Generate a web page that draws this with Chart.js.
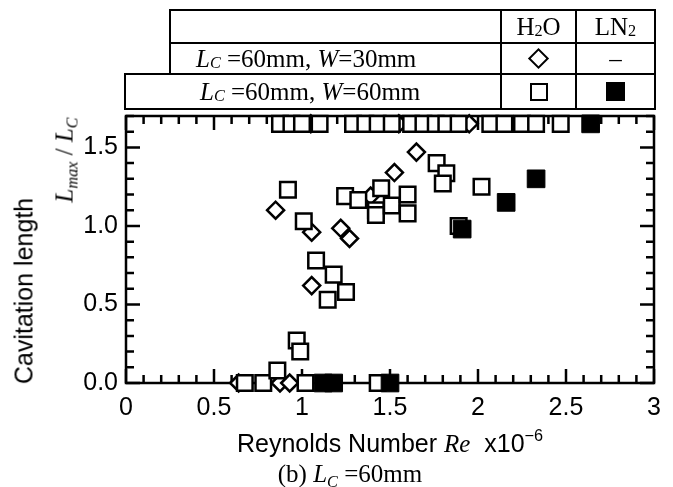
<!DOCTYPE html>
<html>
<head>
<meta charset="utf-8">
<script src="https://cdn.jsdelivr.net/npm/chart.js@4.4.0/dist/chart.umd.min.js"></script>
<style>
  body { margin: 0; background: #fff; }
  #wrap { position: relative; width: 673px; height: 487px; overflow: hidden; }
  #chart { position: absolute; left: 0; top: 0; }
  .txt { position: absolute; white-space: nowrap; color: #000; line-height: 1; }
  .sans { font-family: "Liberation Sans", Arial, sans-serif; font-size: 25px; }
  .serif { font-family: "Liberation Serif", "Times New Roman", serif; font-size: 25px; }
  .it { font-style: italic; font-family: "Liberation Serif", "Times New Roman", serif; }
  sub, sup { font-size: 65%; line-height: 0; position: relative; vertical-align: baseline; }
  sub { top: 0.3em; }
  sup { top: -0.7em; }
  .cell { position: absolute; box-sizing: border-box; border: 2px solid #000; display: flex;
          align-items: center; justify-content: center; }
  .cell.left { justify-content: flex-start; padding-left: 25px; }
  .mk-dia { width: 11px; height: 11px; border: 2.5px solid #000; transform: rotate(45deg); background: #fff; }
  .mk-sq { width: 14px; height: 14px; border: 2.5px solid #000; background: #fff; }
  .mk-fill { width: 19px; height: 19px; background: #000; }
  .center { transform: translate(-50%, -50%); }
  .rot { transform: translate(-50%, -50%) rotate(-90deg); }
</style>
</head>
<body>
<div id="wrap">
  <canvas id="chart" width="673" height="487"></canvas>

  <!-- key table -->
  <div class="cell" style="left:169px; top:9px; width:333px; height:35px;"></div>
  <div class="cell serif" style="left:500px; top:9px; width:77px; height:35px;">H<sub>2</sub>O</div>
  <div class="cell serif" style="left:575px; top:9px; width:81px; height:35px;">LN<sub>2</sub></div>

  <div class="cell serif left" style="left:169px; top:42px; width:333px; height:33px;"><span class="it">L</span><sub class="it">C</sub>&nbsp;=60mm,&nbsp;<span class="it">W</span>=30mm</div>
  <div class="cell" style="left:500px; top:42px; width:77px; height:33px;"><div class="mk-dia"></div></div>
  <div class="cell serif" style="left:575px; top:42px; width:81px; height:33px;">–</div>

  <div class="cell serif left" style="left:124px; top:73px; width:378px; height:37px; padding-left:74px;"><span class="it">L</span><sub class="it">C</sub>&nbsp;=60mm,&nbsp;<span class="it">W</span>=60mm</div>
  <div class="cell" style="left:500px; top:73px; width:77px; height:37px;"><div class="mk-sq"></div></div>
  <div class="cell" style="left:575px; top:73px; width:81px; height:37px;"><div class="mk-fill"></div></div>

  <!-- axis titles -->
  <div class="txt sans rot" style="left:24px; top:291px;">Cavitation length</div>
  <div class="txt serif rot" style="left:64px; top:160px;"><span class="it">L</span><sub class="it">max</sub> / <span class="it">L</span><sub class="it">C</sub></div>
  <div class="txt sans center" style="left:390px; top:443px;">Reynolds Number <span class="it">Re</span>&nbsp;&nbsp;x10<sup>−6</sup></div>
  <div class="txt serif center" style="left:350px; top:473px;">(b) <span class="it">L</span><sub class="it">C</sub> =60mm</div>
</div>

<script>
// axis setup
const xMin = 0, xMax = 3;
const yMin = 0, yMax = 1.7;
const xTicks = [0, 0.5, 1, 1.5, 2, 2.5, 3];
const yTicks = [0, 0.5, 1.0, 1.5];
const xTickText = ['0', '0.5', '1', '1.5', '2', '2.5', '3'];
const yTickText = ['0.0', '0.5', '1.0', '1.5'];

// H2O, Lc=60mm, W=30mm (diamonds)
const w30Re = [0.64, 0.875, 0.93, 0.85, 1.055, 1.22, 1.27, 1.055, 1.39, 1.525, 1.65, 1.05, 1.55, 1.95];
const w30L  = [0, 0, 0, 1.10, 0.96, 0.985, 0.92, 0.62, 1.19, 1.34, 1.47, 1.65, 1.65, 1.65];

// H2O, Lc=60mm, W=60mm (open squares)
const w60Re = [0.675, 0.78, 1.02, 1.43, 0.86, 0.97, 0.99,
  1.08, 1.18, 1.25, 1.146,
  0.92, 1.01, 1.245, 1.32, 1.45, 1.42, 1.42, 1.51, 1.60, 1.60, 1.765, 1.82, 1.80, 2.02, 1.89,
  0.875, 0.94, 1.0, 1.10, 1.29, 1.36, 1.43, 1.51, 1.62, 1.69, 1.76, 1.82, 1.89, 2.07, 2.15, 2.25, 2.33, 2.47];
const w60L  = [0, 0, 0, 0, 0.08, 0.27, 0.20,
  0.78, 0.69, 0.58, 0.53,
  1.23, 1.03, 1.19, 1.165, 1.24, 1.10, 1.07, 1.13, 1.20, 1.08, 1.40, 1.335, 1.27, 1.25, 1.0,
  1.65, 1.65, 1.65, 1.65, 1.65, 1.65, 1.65, 1.65, 1.65, 1.65, 1.65, 1.65, 1.65, 1.65, 1.65, 1.65, 1.65, 1.65];

// LN2, Lc=60mm, W=60mm (filled squares)
const ln2Re = [1.12, 1.18, 1.50, 1.91, 2.16, 2.33, 2.64];
const ln2L  = [0, 0, 0, 0.98, 1.15, 1.30, 1.65];

function toPoints(xs, ys) {
  return xs.map((v, i) => ({ x: v, y: ys[i] }));
}

// frame with inward ticks on all four sides
const frameTicks = {
  id: 'frameTicks',
  beforeDatasetsDraw(chart) {
    const { ctx, chartArea: a, scales: { x, y } } = chart;
    ctx.save();
    ctx.strokeStyle = '#000';
    ctx.lineWidth = 2.5;
    ctx.lineCap = 'butt';
    ctx.beginPath();
    for (let i = 0; i <= 30; i++) {
      const px = x.getPixelForValue(i / 10);
      const len = i % 5 === 0 ? 14 : 8;
      ctx.moveTo(px, a.bottom); ctx.lineTo(px, a.bottom - len);
      ctx.moveTo(px, a.top); ctx.lineTo(px, a.top + len);
    }
    for (let i = 0; i <= 17; i++) {
      const py = y.getPixelForValue(i / 10);
      const len = i % 5 === 0 ? 14 : 8;
      ctx.moveTo(a.left, py); ctx.lineTo(a.left + len, py);
      ctx.moveTo(a.right, py); ctx.lineTo(a.right - len, py);
    }
    ctx.stroke();
    ctx.strokeRect(a.left, a.top, a.right - a.left, a.bottom - a.top);
    ctx.restore();
  }
};

const tickFont = { family: '"Liberation Sans", Arial, sans-serif', size: 25 };

new Chart(document.getElementById('chart'), {
  type: 'scatter',
  data: {
    datasets: [
      {
        label: 'LN2 W=60mm',
        data: toPoints(ln2Re, ln2L),
        pointStyle: 'rect',
        pointRadius: 12.5,
        backgroundColor: '#000',
        borderColor: '#000',
        borderWidth: 1,
        clip: false
      },
      {
        label: 'H2O W=60mm',
        data: toPoints(w60Re, w60L),
        pointStyle: 'rect',
        pointRadius: 11,
        backgroundColor: '#fff',
        borderColor: '#000',
        borderWidth: 2.5,
        clip: false
      },
      {
        label: 'H2O W=30mm',
        data: toPoints(w30Re, w30L),
        pointStyle: 'rectRot',
        pointRadius: 8.5,
        backgroundColor: '#fff',
        borderColor: '#000',
        borderWidth: 2.5,
        clip: false
      }
    ]
  },
  options: {
    responsive: false,
    animation: false,
    events: [],
    layout: { padding: { left: 80, right: 19, top: 116, bottom: 60 } },
    plugins: { legend: { display: false }, tooltip: { enabled: false } },
    scales: {
      x: {
        type: 'linear',
        min: xMin,
        max: xMax,
        afterBuildTicks: s => { s.ticks = xTicks.map(v => ({ value: v })); },
        afterFit: s => { s.height = 44; },
        grid: { display: false, drawTicks: false },
        border: { display: false },
        ticks: {
          color: '#000',
          font: tickFont,
          padding: 10,
          maxRotation: 0,
          callback: (v, i) => xTickText[i]
        }
      },
      y: {
        type: 'linear',
        min: yMin,
        max: yMax,
        afterBuildTicks: s => { s.ticks = yTicks.map(v => ({ value: v })); },
        afterFit: s => { s.width = 46; },
        grid: { display: false, drawTicks: false },
        border: { display: false },
        ticks: {
          color: '#000',
          font: tickFont,
          padding: 8,
          callback: (v, i) => yTickText[i]
        }
      }
    }
  },
  plugins: [frameTicks]
});
</script>
</body>
</html>
